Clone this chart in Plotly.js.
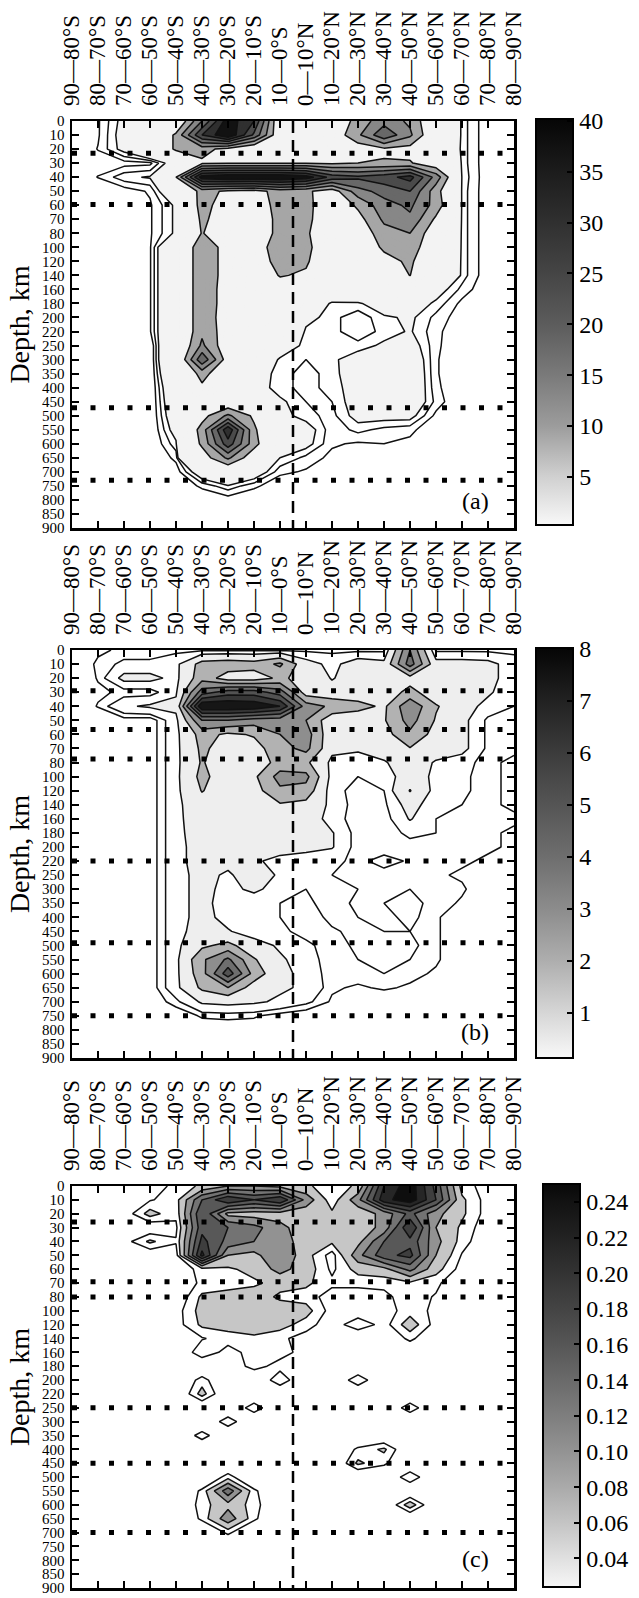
<!DOCTYPE html>
<html><head><meta charset="utf-8">
<script src="https://cdn.plot.ly/plotly-3.0.1.min.js"></script>
<style>html,body{margin:0;padding:0;background:#fff}#chart{width:639px;height:1598px}</style>
</head><body><div id="chart"></div>
<script>
const latLabels = ['90—80°S','80—70°S','70—60°S','60—50°S','50—40°S','40—30°S','30—20°S','20—10°S','10—0°S','0—10°N','10—20°N','20—30°N','30—40°N','40—50°N','50—60°N','60—70°N','70—80°N','80—90°N'];
const depthLabels = ['0','10','20','30','40','50','60','70','80','100','120','140','160','180','200','220','250','300','350','400','450','500','550','600','650','700','750','800','850','900'];

// Panel (a)
const zA = [
[0,0.35,1.2,2,4,20,38,30,4,3,5,12,18,14,4,0.85,0.15,0],
[0,0.35,1.3,2.5,11,30,40,24,5,3.5,6,14,24,16,4,0.85,0.15,0],
[0,0.42,1.2,2.5,11,12,8,4,3,3,4,7,9,8,3,0.85,0.15,0],
[0,0.2,0.25,0.3,1.5,9,9.5,9.5,9.5,9.5,9,10,10.5,10.5,6,0.85,0.15,0],
[0,0.42,0.9,1.05,10,38,40,40,40,38,28,26,28,32,18,0.9,0.15,0],
[0,0,0.2,0.45,2,12,9,8,12,11,7,18,22,25,12,0.85,0.15,0],
[0,0,0,0.35,1.1,12,7,5,13,12,5,11,18,21,13,0.85,0.15,0],
[0,0,0,0.35,1.1,11,7,5,12,12,4,8,16,19,9,0.85,0.15,0],
[0,0,0,0.35,1.1,10.3,6,5,12,11,4,6,13,15,6,0.85,0.15,0],
[0,0,0,0.35,2.5,14,7.5,6,14,12,3.5,5,11,13,5,0.85,0.15,0],
[0,0,0,0.35,2.5,14,7.5,5,13,11,3,4,8,11,4,0.85,0.15,0],
[0,0,0,0.35,2.5,14,7.5,4,10.5,9,3,3.5,6,10.1,3.5,0.85,0.15,0],
[0,0,0,0.35,2.5,14,7,4,6,4,2,2.5,2.5,3,1.3,0.6,0.1,0],
[0,0,0,0.35,2.5,14,7,4,4,1.8,0.9,0.9,1.5,1.4,0.9,0.3,0,0],
[0,0,0,0.35,2.5,14,6.5,3.5,3,1.2,0.8,0.5,0.9,1.1,0.6,0.2,0,0],
[0,0,0,0.35,2.5,14,7,3,2.5,0.9,0.8,0.5,0.8,1.05,0.5,0.1,0,0],
[0,0,0,0,3,16,6,2.5,1.6,0.8,0.8,0.8,1.1,1.3,0.5,0,0,0],
[0,0,0,0,3,24,7,2,0.9,0.7,0.9,1.3,1.6,1.6,0.45,0,0,0],
[0,0,0,0,2.5,12,5,1.4,0.8,0.6,0.8,1.5,1.8,1.7,0.45,0,0,0],
[0,0,0,0,2,9,4,1.3,0.8,0.6,0.8,1.3,1.8,1.7,0.5,0,0,0],
[0,0,0,0,1.8,5,5,2,1.1,0.7,0.7,1.3,1.7,1.6,0.6,0,0,0],
[0,0,0,0,1.6,8,16,9,1.2,0.8,0.6,1.2,1.2,1.2,0.3,0,0,0],
[0,0,0,0,1.3,12,34,11,1.5,1.3,0.5,0.8,0.6,0.5,0.1,0,0,0],
[0,0,0,0,0.9,11,28,12,1.6,1.2,0.45,0.35,0.4,0.3,0,0,0,0],
[0,0,0,0,0.5,7,16,6,1.0,0.6,0.3,0.1,0,0,0,0,0,0],
[0,0,0,0,0.2,1.5,4,1.5,0.5,0.35,0,0,0,0,0,0,0,0],
[0,0,0,0,0,0.5,0.9,0.5,0.1,0,0,0,0,0,0,0,0,0],
[0,0,0,0,0,0,0.2,0,0,0,0,0,0,0,0,0,0,0],
[0,0,0,0,0,0,0,0,0,0,0,0,0,0,0,0,0,0],
[0,0,0,0,0,0,0,0,0,0,0,0,0,0,0,0,0,0]
];
// Panel (b)
const zB = [
[0,0.2,0.3,0.3,0.4,0.4,0.4,0.4,0.4,0.4,0.4,0.4,0.4,4,0.4,0.4,0.4,0.4],
[0,0.3,0.6,0.6,0.8,2.4,2.6,2.4,3.2,1.3,0.8,1.4,1.2,4.5,1.3,1.3,1.2,0.7],
[0,0.27,1.2,1.2,0.8,2.6,1.5,1.5,2.2,1.6,0.95,1.4,1.5,1.6,1.5,1.3,1.2,0.7],
[0,0.2,0.3,0.3,0.9,4.5,5.5,5.5,4.5,1.5,1.3,1.3,1.4,2.3,1.4,1.3,1.1,0.6],
[0,0.27,0.9,1.1,1.2,8,8,7.8,7,3.5,2.8,2.4,1.8,3.8,2.1,1.3,0.8,0.5],
[0,0,0.1,0.05,0.8,4,4,3.5,3.4,3.0,1.3,1.2,1.9,3.4,1.9,1.2,0.4,0.3],
[0,0,0,0.05,0.8,2.4,1.8,2.1,3.0,3.5,1.2,1.1,1.6,2.8,1.6,1.2,0.4,0.3],
[0,0,0,0.05,0.8,2.2,1.5,1.6,2.6,3.3,1.2,1.1,1.5,1.95,1.5,1.2,0.4,0.3],
[0,0,0,0.05,0.8,2.1,1.2,1.3,2.4,2.2,0.8,0.7,0.9,1.6,0.9,0.7,0.3,0.2],
[0,0,0,0.05,0.8,2.3,1.3,1.8,3.4,3.3,0.7,0.5,0.6,1.5,0.8,0.6,0.3,0.2],
[0,0,0,0.05,0.8,2.05,1.4,1.6,2.8,2.6,0.6,0.4,0.5,2.05,0.7,0.6,0.3,0.2],
[0,0,0,0.05,0.8,1.6,1.5,1.4,1.9,1.7,0.8,0.3,0.4,1.3,0.6,0.5,0.3,0.2],
[0,0,0,0.05,0.8,1.5,1.4,1.4,1.6,1.5,0.7,0.3,0.3,1.05,0.5,0.5,0.4,0.3],
[0,0,0,0.05,0.8,1.4,1.4,1.4,1.4,1.3,1.05,0.3,0.3,0.6,0.5,0.4,0.3,0.2],
[0,0,0,0.05,0.8,1.3,1.2,1.3,1.3,1.2,1.05,0.3,0.3,0.35,0.45,0.4,0.3,0.2],
[0,0,0,0.05,0.8,1.3,1.2,1.1,0.8,0.7,0.6,0.4,0.65,0.45,0.45,0.3,0.2,0],
[0,0,0,0.05,0.8,1.2,0.9,1.4,0.9,0.6,0.5,0.4,0.35,0.5,0.3,0.2,0,0],
[0,0,0,0.05,0.8,1.2,0.8,1.15,0.7,0.5,0.6,0.5,0.5,0.5,0.4,0.3,0,0],
[0,0,0,0.05,0.8,1.2,0.7,0.6,0.5,0.45,0.6,0.45,0.5,0.6,0.4,0.2,0,0],
[0,0,0,0.05,0.8,1.2,0.8,0.6,0.5,0.3,0.6,0.5,0.4,0.6,0.3,0,0,0],
[0,0,0,0.05,0.8,1.3,1.05,0.7,0.6,0.35,0.45,0.6,0.5,0.5,0.3,0,0,0],
[0,0,0,0.05,0.8,1.8,2.3,1.3,0.9,0.6,0.3,0.6,0.6,0.6,0.3,0,0,0],
[0,0,0,0.05,0.8,2.8,4.2,2.1,1.1,0.7,0.3,0.5,0.55,0.5,0.3,0,0,0],
[0,0,0,0.05,0.8,2.6,5.6,2.6,1.2,0.8,0.3,0.4,0.5,0.35,0.2,0,0,0],
[0,0,0,0.05,0.8,2.2,3.0,1.5,1.1,0.9,0.3,0.2,0.3,0.2,0,0,0,0],
[0,0,0,0,0.4,1.1,1.2,1.1,0.9,0.6,0.2,0,0,0,0,0,0,0],
[0,0,0,0,0,0.3,0.35,0.3,0.1,0,0,0,0,0,0,0,0,0],
[0,0,0,0,0,0,0,0,0,0,0,0,0,0,0,0,0,0],
[0,0,0,0,0,0,0,0,0,0,0,0,0,0,0,0,0,0],
[0,0,0,0,0,0,0,0,0,0,0,0,0,0,0,0,0,0]
];
// Panel (c)
const zC = [
[0,0,0,0.02,0.035,0.055,0.08,0.08,0.07,0.055,0.035,0.055,0.2,0.25,0.16,0.04,0.02,0],
[0,0,0.01,0.028,0.04,0.14,0.2,0.17,0.2,0.1,0.035,0.1,0.22,0.25,0.17,0.055,0.02,0],
[0,0,0.015,0.06,0.035,0.17,0.07,0.065,0.065,0.06,0.055,0.06,0.09,0.15,0.09,0.055,0.02,0],
[0,0,0.01,0.01,0.025,0.16,0.14,0.12,0.09,0.06,0.055,0.06,0.09,0.2,0.08,0.045,0.015,0],
[0,0,0.02,0.055,0.032,0.18,0.13,0.11,0.1,0.06,0.055,0.07,0.14,0.16,0.09,0.04,0.01,0],
[0,0,0,0.01,0.02,0.21,0.08,0.07,0.11,0.06,0.02,0.1,0.16,0.18,0.08,0.028,0,0],
[0,0,0,0,0.01,0.04,0.045,0.06,0.09,0.065,0.025,0.06,0.07,0.12,0.06,0.02,0,0],
[0,0,0,0,0.01,0.035,0.04,0.045,0.06,0.055,0.035,0.035,0.035,0.045,0.035,0.01,0,0],
[0,0,0,0,0.01,0.055,0.06,0.065,0.045,0.04,0.02,0.02,0.025,0.04,0.028,0,0,0],
[0,0,0,0,0.02,0.06,0.065,0.07,0.065,0.06,0.02,0.01,0.02,0.04,0.025,0,0,0],
[0,0,0,0,0.02,0.055,0.06,0.065,0.06,0.04,0.015,0.048,0.02,0.065,0.02,0,0,0],
[0,0,0,0,0,0.028,0.04,0.045,0.035,0.02,0,0,0.01,0.035,0.01,0,0,0],
[0,0,0,0,0,0.048,0.02,0.04,0.04,0.02,0,0,0,0.01,0,0,0,0],
[0,0,0,0,0,0,0.01,0.04,0.02,0.02,0,0,0,0,0,0,0,0],
[0,0,0,0,0,0.04,0,0,0.048,0,0,0.048,0,0,0,0,0,0],
[0,0,0,0,0,0.06,0,0,0,0,0,0,0,0,0,0,0,0],
[0,0,0,0,0,0,0,0.045,0,0,0,0,0,0.045,0,0,0,0],
[0,0,0,0,0,0,0.045,0,0,0,0,0,0,0,0,0,0,0],
[0,0,0,0,0,0.042,0,0,0,0,0,0,0,0,0,0,0,0],
[0,0,0,0,0,0,0,0,0,0,0,0.035,0.055,0,0,0,0,0],
[0,0,0,0,0,0,0,0,0,0,0,0.055,0.035,0,0,0,0,0],
[0,0,0,0,0,0,0.04,0,0,0,0,0,0,0.048,0,0,0,0],
[0,0,0,0,0,0.035,0.13,0.035,0,0,0,0,0,0,0,0,0,0],
[0,0,0,0,0,0.04,0.07,0.04,0,0,0,0,0,0.065,0,0,0,0],
[0,0,0,0,0,0.035,0.1,0.035,0,0,0,0,0,0,0,0,0,0],
[0,0,0,0,0,0,0.035,0,0,0,0,0,0,0,0,0,0,0],
[0,0,0,0,0,0,0,0,0,0,0,0,0,0,0,0,0,0],
[0,0,0,0,0,0,0,0,0,0,0,0,0,0,0,0,0,0],
[0,0,0,0,0,0,0,0,0,0,0,0,0,0,0,0,0,0],
[0,0,0,0,0,0,0,0,0,0,0,0,0,0,0,0,0,0]
];

const lineLevelsA = [0.4, 0.7, 1, 10, 15, 20, 25, 30, 35];
const lineLevelsB = [0.25, 0.5, 1, 2, 3, 4, 5, 6, 7];
const lineLevelsC = [0.03, 0.05, 0.08, 0.11, 0.14, 0.17, 0.2, 0.23];

const fillThresholdsA = [1, 10, 15, 20, 25, 30, 35];
const fillColorsA = ['#f3f3f3','#a6a6a6','#878787','#686868','#4b4b4b','#303030','#121212'];
const fillThresholdsB = [1, 2, 3, 4, 5, 6, 7];
const fillColorsB = ['#eeeeee','#b2b2b2','#8e8e8e','#6e6e6e','#525252','#363636','#161616'];
const fillThresholdsC = [0.05, 0.08, 0.11, 0.14, 0.17, 0.2, 0.23];
const fillColorsC = ['#c6c6c6','#929292','#737373','#585858','#3e3e3e','#262626','#0e0e0e'];

const cbRangeA = [0.25, 40.2];
const cbTicksA = [5, 10, 15, 20, 25, 30, 35, 40];
const cbStopsA = [[0.25,'#f8f8f8'],[5,'#d0d0d0'],[10,'#9c9c9c'],[15,'#7a7a7a'],[20,'#5c5c5c'],[25,'#454545'],[30,'#303030'],[35,'#1c1c1c'],[40.2,'#060606']];
const cbRangeB = [0.13, 8.02];
const cbTicksB = [1, 2, 3, 4, 5, 6, 7, 8];
const cbStopsB = [[0.13,'#f8f8f8'],[1,'#d6d6d6'],[2,'#aeaeae'],[3,'#8c8c8c'],[4,'#6e6e6e'],[5,'#555555'],[6,'#3c3c3c'],[7,'#222222'],[8.02,'#050505']];
const cbRangeC = [0.024, 0.25];
const cbTicksC = [0.04, 0.06, 0.08, 0.10, 0.12, 0.14, 0.16, 0.18, 0.20, 0.22, 0.24];
const cbStopsC = [[0.024,'#f6f6f6'],[0.04,'#e0e0e0'],[0.06,'#c4c4c4'],[0.08,'#aaaaaa'],[0.1,'#939393'],[0.12,'#7e7e7e'],[0.14,'#6a6a6a'],[0.16,'#565656'],[0.18,'#444444'],[0.2,'#333333'],[0.22,'#222222'],[0.24,'#121212'],[0.25,'#080808']];

// boundary depths (km) shown as dotted lines
const dottedDepthsA = [23, 59.5, 472, 730];
const dottedDepthsB = [29, 56.5, 77.5, 220, 490, 750];
const dottedDepthsC = [26, 69, 80, 250, 450, 700];
const equatorBetween = ['10—0°S', '0—10°N'];

// ---------------- layout geometry ----------------
const W = 639, H = 1598;
const PX = [72, 514];
const FONT = 'Liberation Serif, Times New Roman, serif';
const panels = [
  {z:zA, lines:lineLevelsA, ft:fillThresholdsA, fc:fillColorsA, step:1, top:121, bottom:528,
   cb:{x:536, top:119, bottom:525, range:cbRangeA, ticks:cbTicksA, stops:cbStopsA, fmt:''}, dots:dottedDepthsA, label:'(a)', labelY:501},
  {z:zB, lines:lineLevelsB, ft:fillThresholdsB, fc:fillColorsB, step:1, top:650, bottom:1058,
   cb:{x:536, top:648, bottom:1058, range:cbRangeB, ticks:cbTicksB, stops:cbStopsB, fmt:''}, dots:dottedDepthsB, label:'(b)', labelY:1032},
  {z:zC, lines:lineLevelsC, ft:fillThresholdsC, fc:fillColorsC, step:0.03, top:1186, bottom:1588,
   cb:{x:543, top:1184, bottom:1587, range:cbRangeC, ticks:cbTicksC, stops:cbStopsC, fmt:'.2f'}, dots:dottedDepthsC, label:'(c)', labelY:1559}
];

const depthVals = depthLabels.map(Number);
function depthToIndex(d){
  for (let i=0;i<depthVals.length-1;i++){
    if (d>=depthVals[i] && d<=depthVals[i+1]) return i + (d-depthVals[i])/(depthVals[i+1]-depthVals[i]);
  }
  return depthVals.length-1;
}
const eqX = (latLabels.indexOf(equatorBetween[0]) + latLabels.indexOf(equatorBetween[1]))/2;

const traces = [];
const layout = {
  width:W, height:H, margin:{l:0,r:0,t:0,b:0}, paper_bgcolor:'#fff', plot_bgcolor:'#fff',
  showlegend:false, shapes:[], annotations:[], font:{family:FONT, color:'#000'}
};

panels.forEach((p, i) => {
  const n = i===0 ? '' : String(i+1);
  const xa = 'x'+n, ya = 'y'+n;
  // filled bands
  const start = p.ft[0], end = p.ft[p.ft.length-1];
  const nc = Math.round((end-start)/p.step)+1;
  const cs = [];
  for (let k=0;k<=nc;k++){
    let col = '#ffffff';
    if (k>0){
      const lvl = start + (k-1)*p.step;
      p.ft.forEach((t,j)=>{ if (lvl >= t - p.step*1e-3) col = p.fc[j]; });
    }
    cs.push([k/nc, col]);
  }
  traces.push({type:'contour', x:latLabels, y:depthLabels, z:p.z, xaxis:xa, yaxis:ya,
    autocontour:false, contours:{coloring:'fill', start:start, end:end, size:p.step, showlines:false},
    line:{width:0, smoothing:0}, colorscale:cs, showscale:false, hoverinfo:'skip'});
  // contour lines
  p.lines.forEach(L => {
    traces.push({type:'contour', x:latLabels, y:depthLabels, z:p.z, xaxis:xa, yaxis:ya,
      autocontour:false, contours:{coloring:'none', start:L, end:L, size:1, showlines:true},
      line:{color:'#111', width:1.5, smoothing:0}, showscale:false, hoverinfo:'skip'});
  });
  // colorbar carrier
  const [cmin, cmax] = p.cb.range;
  const cbcs = p.cb.stops.map(s => [(s[0]-cmin)/(cmax-cmin), s[1]]);
  const cbLen = p.cb.bottom - p.cb.top;
  traces.push({type:'scatter', mode:'markers', x:[latLabels[0]], y:[depthLabels[0]], xaxis:xa, yaxis:ya,
    hoverinfo:'skip', marker:{size:1, opacity:0, color:[cmin], cmin:cmin, cmax:cmax, colorscale:cbcs, showscale:true,
      colorbar:{x:p.cb.x/W, xanchor:'left', xref:'paper', xpad:0, y:1-p.cb.top/H, yanchor:'top', yref:'paper', ypad:0,
        len:cbLen, lenmode:'pixels', thickness:37, thicknessmode:'pixels', outlinewidth:2, outlinecolor:'#000', borderwidth:0,
        ticks:'inside', ticklen:7, tickwidth:2, tickcolor:'#000', tickmode:'array', tickvals:p.cb.ticks, tickformat:p.cb.fmt,
        tickfont:{family:FONT, size:24, color:'#000'}}}});
  // left-edge colorbar ticks
  p.cb.ticks.forEach(v => {
    const yp = p.cb.top + (cmax - v)/(cmax-cmin)*cbLen;
    layout.shapes.push({type:'line', xref:'paper', yref:'paper', x0:p.cb.x/W, x1:(p.cb.x+7)/W, y0:1-yp/H, y1:1-yp/H,
      line:{color:'#000', width:2}});
  });
  // axes
  layout['xaxis'+n] = {domain:[PX[0]/W, PX[1]/W], anchor:ya, type:'category', categoryorder:'array', categoryarray:latLabels,
    range:[0, latLabels.length-1], side:'top', tickangle:-90, ticks:'inside', ticklen:7, tickwidth:2, tickcolor:'#000',
    tickmode:'array', tickvals:latLabels, ticktext:latLabels,
    showline:true, linewidth:2.5, linecolor:'#000', mirror:'ticks', showgrid:false, zeroline:false,
    tickfont:{family:FONT, size:23, color:'#000'}, ticklabelstandoff:8, fixedrange:true};
  layout['yaxis'+n] = {domain:[1-p.bottom/H, 1-p.top/H], anchor:xa, type:'category', categoryorder:'array', categoryarray:depthLabels,
    range:[depthLabels.length-1, 0], ticks:'inside', ticklen:7, tickwidth:2, tickcolor:'#000',
    tickmode:'array', tickvals:depthLabels, ticktext:depthLabels,
    showline:true, linewidth:2.5, linecolor:'#000', mirror:'ticks', showgrid:false, zeroline:false,
    tickfont:{family:FONT, size:15, color:'#000'}, ticklabelstandoff:2,
    title:{text:'Depth, km', font:{family:FONT, size:28, color:'#000'}, standoff:4}, fixedrange:true};
  // dotted boundaries
  p.dots.forEach(d => {
    const yi = depthToIndex(d);
    layout.shapes.push({type:'line', xref:xa, yref:ya, x0:0, x1:latLabels.length-1, y0:yi, y1:yi,
      line:{color:'#000', width:5, dash:'5px,13.5px'}});
  });
  // equator dashed
  layout.shapes.push({type:'line', xref:xa, yref:ya, x0:eqX, x1:eqX, y0:0, y1:depthLabels.length-1,
    line:{color:'#000', width:2.5, dash:'12px,7px'}});
  // panel label
  layout.annotations.push({xref:'paper', yref:'paper', x:491/W, xanchor:'right', y:1-p.labelY/H, yanchor:'middle',
    text:p.label, showarrow:false, font:{family:FONT, size:24, color:'#000'}});
});

Plotly.newPlot('chart', traces, layout, {displayModeBar:false, staticPlot:true});
</script>
</body></html>
